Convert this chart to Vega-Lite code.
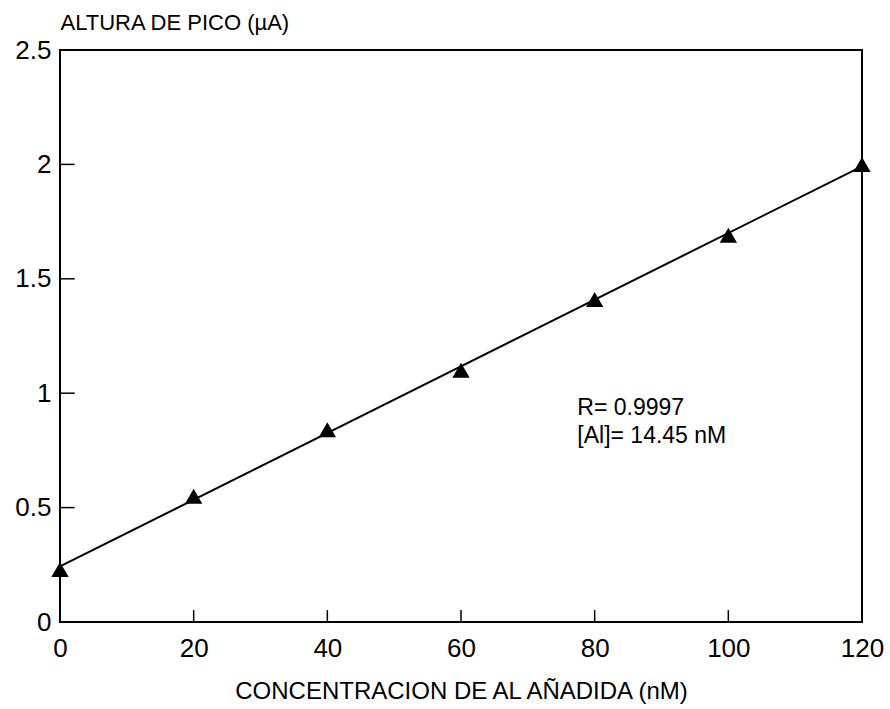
{
  "$schema": "https://vega.github.io/schema/vega-lite/v6.json",
  "width": 802,
  "height": 572,
  "autosize": {"type": "none"},
  "padding": {"left": 60, "top": 50, "right": 28, "bottom": 87},
  "background": "white",
  "config": {
    "view": {"stroke": "black", "strokeWidth": 2},
    "font": "Liberation Sans",
    "axis": {"grid": false, "domain": false, "ticks": false, "labelFlush": false, "labelColor": "black", "titleColor": "black"}
  },
  "datasets": {
    "pts": [
      {"c": 0, "h": 0.23},
      {"c": 20, "h": 0.55},
      {"c": 40, "h": 0.84},
      {"c": 60, "h": 1.1},
      {"c": 80, "h": 1.41},
      {"c": 100, "h": 1.69},
      {"c": 120, "h": 2.0}
    ],
    "xticks": [{"c": 20}, {"c": 40}, {"c": 60}, {"c": 80}, {"c": 100}],
    "yticks": [{"h": 0.5}, {"h": 1}, {"h": 1.5}, {"h": 2}],
    "notes": [
      {"c": 77.4, "h": 0.934, "t": "R= 0.9997"},
      {"c": 77.4, "h": 0.811, "t": "[Al]= 14.45 nM"}
    ]
  },
  "layer": [
    {
      "data": {"name": "pts"},
      "transform": [{"regression": "h", "on": "c", "extent": [0, 120]}],
      "mark": {"type": "line", "color": "black", "strokeWidth": 2},
      "encoding": {
        "x": {"field": "c", "type": "quantitative", "scale": {"domain": [0, 120], "nice": false},
          "axis": {"values": [0, 20, 40, 60, 80, 100, 120], "labelPadding": 13, "labelBaseline": "top", "labelFontSize": 26, "format": "~g",
            "title": "CONCENTRACION DE AL AÑADIDA (nM)", "titleFontSize": 24, "titleFontWeight": "normal", "titlePadding": 18}},
        "y": {"field": "h", "type": "quantitative", "scale": {"domain": [0, 2.5], "nice": false},
          "axis": {"values": [0, 0.5, 1, 1.5, 2, 2.5], "labelPadding": 9, "labelFontSize": 26, "format": "~g",
            "title": "ALTURA DE PICO (µA)", "titleAngle": 0, "titleAlign": "left", "titleBaseline": "middle", "titleX": 0, "titleY": -28, "titleFontSize": 22, "titleFontWeight": "normal"}}
      }
    },
    {
      "data": {"name": "xticks"},
      "mark": {"type": "rule", "color": "black", "strokeWidth": 1.5},
      "encoding": {
        "x": {"field": "c", "type": "quantitative"},
        "y": {"datum": 0},
        "y2": {"datum": 0.052}
      }
    },
    {
      "data": {"name": "yticks"},
      "mark": {"type": "rule", "color": "black", "strokeWidth": 1.5},
      "encoding": {
        "y": {"field": "h", "type": "quantitative"},
        "x": {"datum": 0},
        "x2": {"datum": 2.2}
      }
    },
    {
      "data": {"name": "pts"},
      "mark": {"type": "point", "shape": "triangle-up", "filled": true, "color": "black", "size": 300, "opacity": 1},
      "encoding": {
        "x": {"field": "c", "type": "quantitative"},
        "y": {"field": "h", "type": "quantitative"}
      }
    },
    {
      "data": {"name": "notes"},
      "mark": {"type": "text", "align": "left", "baseline": "middle", "fontSize": 23, "color": "black"},
      "encoding": {
        "x": {"field": "c", "type": "quantitative"},
        "y": {"field": "h", "type": "quantitative"},
        "text": {"field": "t"}
      }
    }
  ]
}
